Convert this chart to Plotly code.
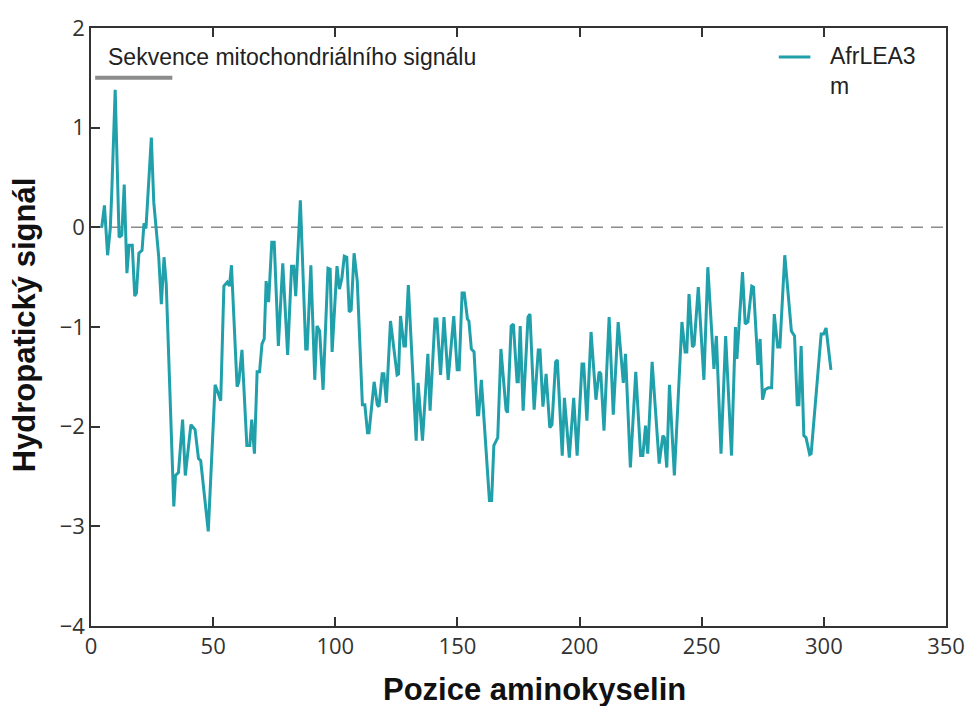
import plotly.graph_objects as go

# Hydropathy profile (position, signal)
positions = [4.4, 5.5, 6.8, 7.9, 8.5, 9.9, 11.5, 12.6, 13.6, 14.2, 14.7, 15.6, 16.9, 17.9, 18.6,
             19.6, 20.9, 21.7, 22.5, 23.3, 24.7, 25.7, 26.8, 27.7, 28.8, 29.9, 30.8, 33.9, 34.6,
             35.8, 37.5, 38.6, 40.9, 42.6, 44.0, 44.9, 48.0, 50.8, 51.7, 53.1, 54.4, 55.8, 56.7,
             57.5, 59.8, 60.5, 61.8, 63.8, 65.0, 65.8, 66.9, 68.0, 69.0, 70.0, 70.9, 71.7, 72.7,
             74.0, 75.0, 76.7, 78.5, 80.5, 82.1, 83.0, 83.8, 85.7, 87.9, 88.5, 90.0, 91.6, 92.5,
             93.6, 95.0, 97.0, 97.9, 98.7, 100.7, 101.7, 102.7, 103.7, 104.7, 105.7, 106.5, 107.7,
             109.0, 111.1, 112.1, 113.2, 113.8, 115.9, 117.2, 117.9, 119.2, 119.9, 120.9, 122.6,
             125.3, 125.9, 126.7, 128.1, 128.7, 129.9, 133.1, 133.9, 135.7, 137.9, 138.8, 140.8,
             141.6, 143.1, 144.5, 146.2, 148.5, 149.9, 150.7, 151.9, 152.8, 154.1, 154.7, 155.7,
             156.8, 158.2, 158.7, 159.8, 163.1, 164.0, 164.9, 166.5, 167.8, 169.9, 170.5, 172.0,
             172.9, 174.4, 174.9, 175.7, 176.9, 178.9, 179.7, 181.4, 183.1, 183.8, 185.0, 186.3,
             187.8, 188.7, 190.2, 190.9, 192.9, 193.8, 195.8, 197.6, 199.0, 201.0, 201.7, 203.0,
             204.7, 206.7, 208.0, 208.7, 210.0, 212.1, 213.8, 215.8, 217.9, 218.8, 220.8, 223.0,
             225.0, 225.9, 227.0, 227.9, 229.7, 232.6, 234.1, 234.7, 235.7, 236.8, 238.8, 241.9,
             243.2, 243.9, 244.8, 246.2, 246.9, 248.6, 250.9, 252.5, 255.0, 256.0, 257.9, 259.8,
             262.2, 263.8, 264.4, 266.7, 267.8, 268.9, 270.5, 271.2, 273.0, 273.9, 274.9, 275.9,
             277.3, 278.6, 279.7, 281.1, 282.0, 284.0, 286.7, 288.0, 289.1, 289.8, 290.7, 291.8,
             292.7, 294.2, 294.8, 298.9, 299.9, 300.9, 302.9]
signal = [0.00, 0.22, -0.28, -0.01, 0.35, 1.38, -0.10, -0.08, 0.43, -0.01, -0.46, -0.18, -0.18, -0.69, -0.66,
          -0.26, -0.23, 0.04, -0.01, 0.32, 0.90, 0.25, -0.01, -0.29, -0.77, -0.30, -0.57, -2.80, -2.49,
          -2.46, -1.93, -2.49, -1.98, -2.03, -2.32, -2.34, -3.05, -1.58, -1.64, -1.74, -0.59, -0.55, -0.59,
          -0.38, -1.60, -1.55, -1.23, -2.19, -2.19, -1.93, -2.27, -1.45, -1.45, -1.17, -1.12, -0.54, -0.75,
          -0.15, -0.15, -1.19, -0.36, -1.28, -0.39, -0.39, -0.69, 0.27, -1.22, -1.22, -0.38, -1.53, -0.99,
          -1.04, -1.63, -0.41, -0.42, -1.25, -0.39, -0.62, -0.51, -0.29, -0.30, -0.85, -0.83, -0.26,
          -0.54, -1.78, -1.78, -2.06, -2.06, -1.55, -1.78, -1.80, -1.47, -1.47, -1.76, -0.94,
          -1.48, -1.47, -0.89, -1.19, -1.19, -0.58, -2.14, -1.56, -2.14, -1.27, -1.84, -0.92,
          -0.92, -1.48, -0.90, -1.53, -0.89, -1.43, -1.43, -0.66, -0.66, -0.92, -0.94, -1.22,
          -1.25, -1.88, -1.88, -1.53, -2.74, -2.74, -2.19, -2.11, -1.22, -1.83, -1.86, -0.99,
          -0.97, -1.55, -1.55, -0.99, -1.84, -0.90, -0.87, -1.83, -1.23, -1.23, -1.80, -1.47,
          -2.01, -1.98, -1.35, -1.33, -2.29, -1.71, -2.31, -1.71, -2.29, -1.37, -1.37, -1.94,
          -1.05, -1.73, -1.45, -1.47, -2.04, -0.90, -1.88, -0.95, -1.56, -1.27, -2.41, -1.45,
          -2.29, -2.29, -1.99, -2.27, -1.35, -2.37, -2.09, -2.11, -2.41, -1.58, -2.49, -0.95,
          -1.25, -1.25, -0.67, -1.20, -1.18, -0.60, -1.53, -0.40, -1.42, -1.09, -2.27, -1.09,
          -2.29, -1.00, -1.32, -0.45, -0.97, -0.95, -0.59, -0.60, -1.38, -1.12, -1.73, -1.63,
          -1.61, -1.61, -0.87, -1.20, -1.20, -0.28, -1.04, -1.09, -1.78, -1.78, -1.19, -2.09,
          -2.11, -2.28, -2.27, -1.07, -1.07, -1.01, -1.43]

series_name = "AfrLEA3<br>m"
signal_region = [1.7, 33.3]        # mitochondrial signal sequence span
signal_label = "Sekvence mitochondriálního signálu"
x_ticks = [0, 50, 100, 150, 200, 250, 300, 350]
y_ticks = [-4, -3, -2, -1, 0, 1, 2]

TEAL = "#20a0aa"
AXIS = "#333333"
SANS = "Liberation Sans, Arial, sans-serif"

fig = go.Figure()
fig.add_trace(go.Scatter(x=positions, y=signal, mode="lines", name=series_name,
                         line=dict(color=TEAL, width=3), showlegend=False))

# zero reference line
fig.add_shape(type="line", xref="x", yref="y", x0=0, x1=350, y0=0, y1=0,
              line=dict(color="#8a8a8a", width=1.5, dash="12px,8px"), layer="below")
# signal sequence bar
fig.add_shape(type="line", xref="x", yref="y", x0=signal_region[0], x1=signal_region[1],
              y0=1.5, y1=1.5, line=dict(color="#8c8c8c", width=4))
fig.add_annotation(x=6.3, y=1.71, xref="x", yref="y", text=signal_label, showarrow=False,
                   xanchor="left", yanchor="middle",
                   font=dict(family=SANS, size=23, color="#222"))

# legend (key line + label) in the upper right corner
fig.add_shape(type="line", xref="paper", yref="paper", x0=0.8044, x1=0.8414, y0=0.9516, y1=0.9516,
              line=dict(color=TEAL, width=3))
fig.add_annotation(x=0.862, y=0.9516, xref="paper", yref="paper", text=series_name,
                   showarrow=False, xanchor="left", yanchor="top", align="left", yshift=16,
                   font=dict(family=SANS, size=23, color="#222"))

# axis titles
fig.add_annotation(x=0.5185, y=-0.106, xref="paper", yref="paper", text="<b>Pozice aminokyselin</b>",
                   showarrow=False, xanchor="center", yanchor="middle",
                   font=dict(family=SANS, size=31, color="#111"))
fig.add_annotation(x=-0.0775, y=0.504, xref="paper", yref="paper", text="<b>Hydropatický signál</b>",
                   showarrow=False, xanchor="center", yanchor="middle", textangle=-90,
                   font=dict(family=SANS, size=31, color="#111"))

tickfont = dict(family="Open Sans, sans-serif", size=22, color="#333")
fig.update_xaxes(range=[0, 350], tickvals=x_ticks, showline=True, linecolor=AXIS, linewidth=1.5,
                 ticks="inside", ticklen=9, tickwidth=1.5, tickcolor=AXIS, mirror="ticks",
                 showgrid=False, zeroline=False, tickfont=tickfont)
fig.update_yaxes(range=[-4, 2], tickvals=y_ticks, showline=True, linecolor=AXIS, linewidth=1.5,
                 ticks="inside", ticklen=9, tickwidth=1.5, tickcolor=AXIS, mirror=True,
                 showgrid=False, zeroline=False, tickfont=tickfont)

fig.update_layout(
    width=977, height=706,
    margin=dict(l=91, r=22, t=21, b=80),
    plot_bgcolor="white", paper_bgcolor="white",
    showlegend=False,
)

fig.write_html("out.html")
